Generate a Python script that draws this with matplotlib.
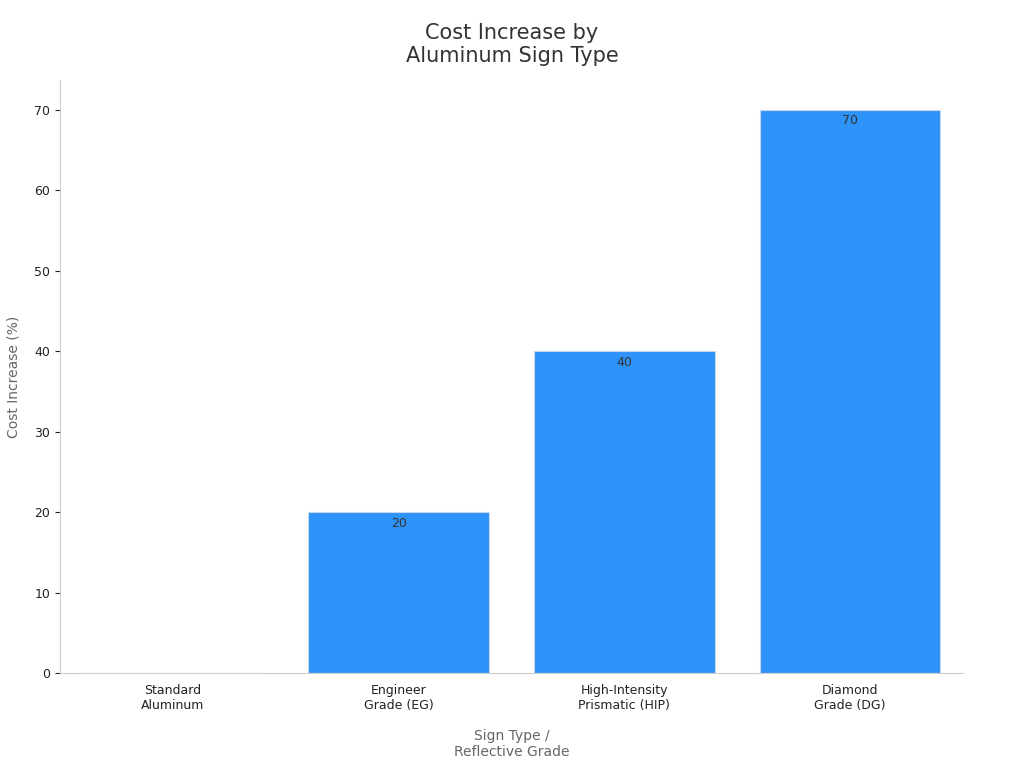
import matplotlib.pyplot as plt

categories = ["Standard\nAluminum", "Engineer\nGrade (EG)", "High-Intensity\nPrismatic (HIP)", "Diamond\nGrade (DG)"]
values = [0, 20, 40, 70]

fig = plt.figure(figsize=(10.24, 7.68), dpi=100)
ax = fig.add_axes([0.0586, 0.1237, 0.8818, 0.7723])

x = range(len(categories))
bars = ax.bar(x, values, width=0.8, color="#2E93F9", edgecolor="#c8d8ea", linewidth=0.8)
for xi, v in zip(x, values):
    if v > 0:
        ax.text(xi, v - 0.6, str(v), ha="center", va="top", fontsize=9, color="#333333")

ax.set_xlim(-0.5, 3.5)
ax.set_ylim(0, 73.7)
ax.set_xticks(list(x))
ax.set_xticklabels(categories, fontsize=9, color="#222222")
ax.set_yticks(range(0, 71, 10))
ax.tick_params(axis="y", labelsize=9, colors="#222222")
ax.tick_params(axis="x", length=0, pad=8)
for s in ["top", "right"]:
    ax.spines[s].set_visible(False)
for s in ["left", "bottom"]:
    ax.spines[s].set_color("#cccccc")

ax.set_xlabel("Sign Type /\nReflective Grade", fontsize=10, color="#666666", labelpad=12)
ax.set_ylabel("Cost Increase (%)", fontsize=10, color="#666666", labelpad=10)
fig.suptitle("Cost Increase by\nAluminum Sign Type", fontsize=15, color="#333333", y=0.97)

fig.savefig("out.png", dpi=100)
